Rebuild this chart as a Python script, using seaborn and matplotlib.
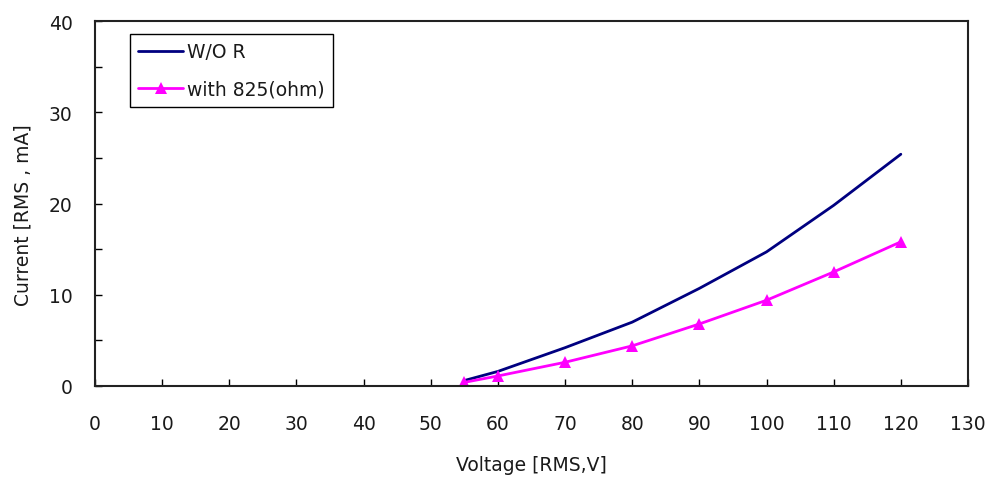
import matplotlib
matplotlib.use("Agg")
import matplotlib.pyplot as plt
import seaborn as sns
import pandas as pd
from matplotlib.ticker import MultipleLocator

voltage = [55, 60, 70, 80, 90, 100, 110, 120]
current_wo_r = [0.6, 1.6, 4.2, 7.0, 10.7, 14.7, 19.8, 25.4]
current_825 = [0.4, 1.1, 2.6, 4.4, 6.8, 9.4, 12.5, 15.8]
series_names = ["W/O R", "with 825(ohm)"]
x_ticks = list(range(0, 131, 10))
y_ticks = [0, 10, 20, 30, 40]

sns.set_theme(style="white")
plt.rcParams["font.family"] = ["DejaVu Sans"]

df1 = pd.DataFrame({"Voltage": voltage, "Current": current_wo_r, "Series": series_names[0]})
df2 = pd.DataFrame({"Voltage": voltage, "Current": current_825, "Series": series_names[1]})

fig = plt.figure(figsize=(9.93, 4.81), dpi=100)
ax = fig.add_axes([95/993, 1-387/481, (968-95)/993, (387-22)/481])

sns.lineplot(data=df1, x="Voltage", y="Current", color="#000080", linewidth=2.0,
             label=series_names[0], ax=ax)
sns.lineplot(data=df2, x="Voltage", y="Current", color="#FF00FF", linewidth=2.0,
             marker="^", markersize=8, markeredgewidth=0, label=series_names[1], ax=ax)

fs = 13.5
txt_color = "#1a1a1a"
ax.set_xlim(0, 130)
ax.set_ylim(0, 40)
ax.set_xticks(x_ticks)
ax.set_yticks(y_ticks)
ax.yaxis.set_minor_locator(MultipleLocator(5))
ax.tick_params(axis="both", which="both", direction="in", length=5, width=1, color="black",
               labelsize=fs, labelcolor=txt_color, bottom=True, left=True, top=False, right=False)
ax.tick_params(axis="y", which="both", pad=16)
ax.tick_params(axis="x", which="both", pad=20)
for s in ax.spines.values():
    s.set_color("#222222")
    s.set_linewidth(1.5)
    s.set_visible(True)

ax.set_xlabel("Voltage [RMS,V]", fontsize=fs, color=txt_color)
ax.set_ylabel("Current [RMS , mA]", fontsize=fs, color=txt_color)
ax.xaxis.set_label_coords(0.5, -0.19)
ax.yaxis.set_label_coords(-0.072, 0.47)

leg = ax.legend(loc="upper left", bbox_to_anchor=((130-95)/873, 1-(35-22)/365),
                frameon=True, fancybox=False, shadow=False, fontsize=fs,
                handlelength=2.4, handletextpad=0.2, borderpad=0.45, labelspacing=0.95,
                borderaxespad=0)
leg.get_frame().set_edgecolor("black")
leg.get_frame().set_linewidth(1.0)
leg.get_frame().set_alpha(1)
for t in leg.get_texts():
    t.set_color(txt_color)

fig.savefig("out.png", dpi=100)
